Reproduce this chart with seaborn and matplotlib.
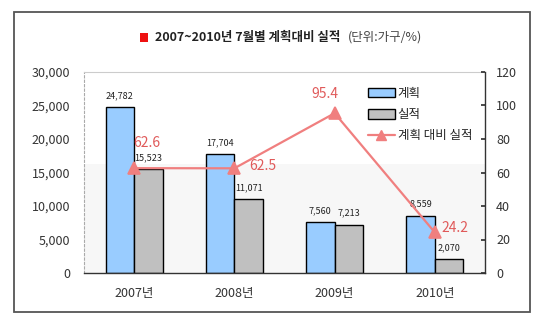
import matplotlib
matplotlib.use("Agg")
import matplotlib.pyplot as plt
from matplotlib.patches import Rectangle, Patch
from matplotlib.lines import Line2D
from matplotlib.ticker import FixedLocator, FuncFormatter
import seaborn as sns
import pandas as pd

years = ["2007년", "2008년", "2009년", "2010년"]
plan = [24782, 17704, 7560, 8559]
actual = [15523, 11071, 7213, 2070]
ratio = [62.6, 62.5, 95.4, 24.2]
series_names = ["계획", "실적", "계획 대비 실적"]

sns.set_theme(style="white")
plt.rcParams["font.family"] = ["Noto Sans CJK KR", "DejaVu Sans"]

BLUE = "#99ccff"
GRAY = "#c0c0c0"
LINE = "#f07f7f"
LBL = "#e05a5a"

df = pd.DataFrame({
    "year": years * 2,
    "value": plan + actual,
    "series": [series_names[0]] * 4 + [series_names[1]] * 4,
})

fig = plt.figure(figsize=(5.5, 3.23), dpi=100)
fig.patch.set_facecolor("white")
ax = fig.add_axes([84 / 550, 50 / 323, 401 / 550, 201 / 323])
ax.set_facecolor("white")
ax.axhspan(0, 16300, color="#f7f7f7", zorder=0, lw=0)

sns.barplot(data=df, x="year", y="value", hue="series", palette=[BLUE, GRAY],
            edgecolor="black", linewidth=1.0, width=0.57, ax=ax, legend=False,
            saturation=1, zorder=2)
for cont in ax.containers:
    ax.bar_label(cont, labels=[f"{v:,.0f}" for v in cont.datavalues],
                 padding=5, fontsize=6.5, color="#222222")

ax.set_ylim(0, 30000)
ax.set_xlim(-0.5, 3.5)
ax.set_yticks(range(0, 30001, 5000))
ax.yaxis.set_major_formatter(FuncFormatter(lambda v, p: f"{v:,.0f}"))
ax.set_xlabel("")
ax.set_ylabel("")
ax.tick_params(axis="y", length=0, pad=10, labelsize=9, labelcolor="#333333")
ax.tick_params(axis="x", which="major", length=0, pad=10, labelsize=9, labelcolor="#333333")
ax.xaxis.set_minor_locator(FixedLocator([0.5, 1.5, 2.5]))
ax.tick_params(axis="x", which="minor", length=3, direction="in", color="#333333", width=0.8)
ax.spines["left"].set_linestyle((0, (2, 2)))
ax.spines["left"].set_color("#aaaaaa")
ax.spines["left"].set_linewidth(0.8)
ax.spines["top"].set_color("#cccccc")
ax.spines["top"].set_linewidth(0.8)
ax.spines["bottom"].set_color("#333333")
ax.spines["bottom"].set_linewidth(1.0)
ax.spines["right"].set_visible(False)

ax2 = ax.twinx()
sns.pointplot(x=years, y=ratio, ax=ax2, color=LINE, markers="^", markersize=8.5,
              linewidth=1.6, native_scale=False)
ax2.set_ylim(0, 120)
ax2.set_xlim(-0.5, 3.5)
ax2.set_yticks(range(0, 121, 20))
ax2.tick_params(axis="y", length=3, direction="in", pad=8, labelsize=9,
                labelcolor="#333333", color="#333333")
for s in ["left", "top", "bottom"]:
    ax2.spines[s].set_visible(False)
ax2.spines["right"].set_color("#333333")
ax2.spines["right"].set_linewidth(1.0)

offsets = [(9, 18), (11, 2), (-7, 14), (5, 3)]
has = ["center", "left", "center", "left"]
for i, (v, off, ha) in enumerate(zip(ratio, offsets, has)):
    ax2.annotate(f"{v}", (i, v), xytext=off, textcoords="offset points",
                 ha=ha, va="center", fontsize=10, color=LBL)

handles = [
    Patch(facecolor=BLUE, edgecolor="black", linewidth=1.0),
    Patch(facecolor=GRAY, edgecolor="black", linewidth=1.0),
    Line2D([0], [0], color=LINE, lw=1.6, marker="^", markersize=7),
]
ax2.legend(handles, series_names, loc="upper left", bbox_to_anchor=(0.695, 0.95),
           frameon=False, fontsize=9, handlelength=2.2, handleheight=0.8,
           handletextpad=0.2, labelspacing=0.65, borderaxespad=0)

# title
fig.patches.append(Rectangle((140 / 550, 1 - 41.5 / 323), 8.5 / 550, 8.5 / 323,
                             transform=fig.transFigure, facecolor="#ee1111",
                             edgecolor="none"))
fig.text(155 / 550, 1 - 37 / 323, "2007~2010년 7월별 계획대비 실적", fontsize=9,
         fontweight="bold", color="#222222", ha="left", va="center")
fig.text(348 / 550, 1 - 37 / 323, "(단위:가구/%)", fontsize=9,
         color="#444444", ha="left", va="center")

# outer frame
fig.patches.append(Rectangle((14 / 550, 11 / 323), 516 / 550, 300 / 323,
                             transform=fig.transFigure, facecolor="none",
                             edgecolor="#555555", linewidth=1.3))

fig.savefig("out.png", dpi=100, facecolor="white")
